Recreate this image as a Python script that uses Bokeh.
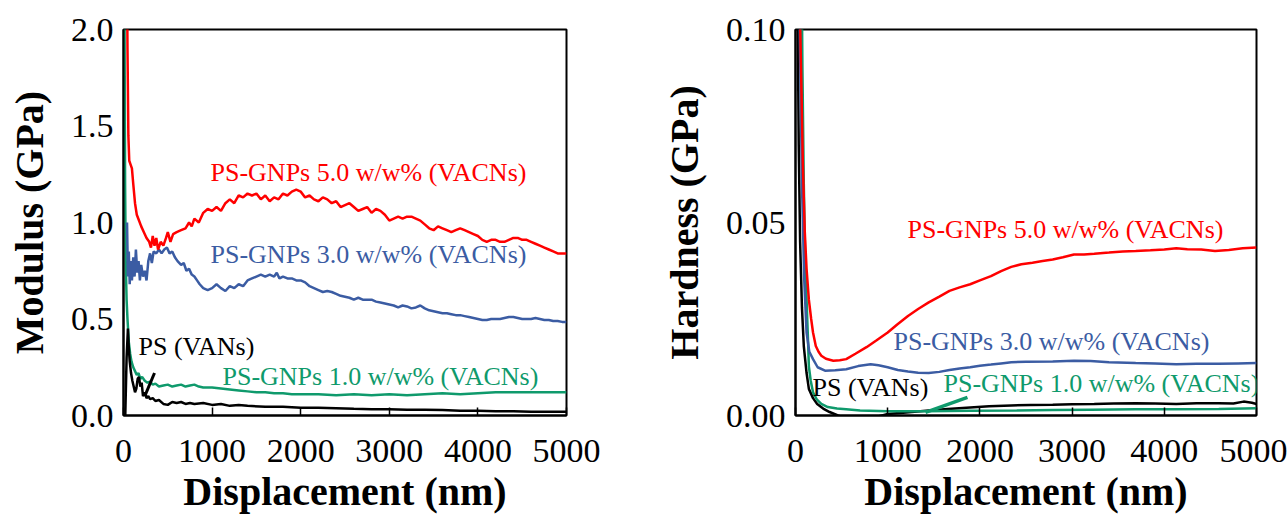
from bokeh.plotting import figure
from bokeh.layouts import row
from bokeh.models import FixedTicker, NumeralTickFormatter, Range1d
from bokeh.embed import file_html
from bokeh.resources import INLINE
from bokeh.core.properties import value

# ---------------- data: modulus (left panel) ----------------
mod_red_x = [35, 45, 55, 65, 80, 95, 110, 130, 150, 175, 200, 230, 260, 290, 310, 330, 350, 370, 390, 420,
             450, 480, 500, 530, 560, 600, 650, 700, 740, 770, 800, 850, 900, 950, 1000, 1050, 1100, 1150,
             1200, 1250, 1300, 1350, 1400, 1450, 1500, 1550, 1600, 1650, 1700, 1750, 1800, 1850, 1900, 1950,
             2000, 2050, 2100, 2150, 2200, 2250, 2300, 2350, 2400, 2450, 2500, 2550, 2600, 2650, 2700, 2750,
             2800, 2850, 2900, 2950, 3000, 3050, 3100, 3150, 3200, 3250, 3300, 3350, 3400, 3450, 3500, 3550,
             3600, 3650, 3700, 3750, 3800, 3850, 3900, 3950, 4000, 4050, 4100, 4150, 4200, 4250, 4300, 4350,
             4400, 4450, 4500, 4550, 4600, 4650, 4700, 4750, 4800, 4850, 4900, 4950, 5000]
mod_red_y = [2.6, 1.9, 1.45, 1.32, 1.30, 1.28, 1.20, 1.10, 1.04, 1.01, 0.98, 0.95, 0.92, 0.90, 0.87, 0.93, 0.88, 0.92, 0.86, 0.90,
             0.88, 0.92, 0.95, 0.90, 0.94, 0.95, 0.96, 0.97, 1.00, 0.98, 1.02, 1.00, 1.05, 1.07, 1.06, 1.08, 1.06, 1.10,
             1.12, 1.10, 1.14, 1.13, 1.15, 1.14, 1.15, 1.12, 1.14, 1.11, 1.13, 1.12, 1.15, 1.14, 1.16, 1.17,
             1.16, 1.13, 1.14, 1.12, 1.11, 1.13, 1.12, 1.10, 1.11, 1.08, 1.09, 1.10, 1.08, 1.06, 1.07, 1.08,
             1.05, 1.07, 1.06, 1.04, 1.01, 1.02, 1.03, 1.02, 1.03, 1.03, 1.02, 1.01, 0.99, 0.97, 0.96, 0.98,
             0.97, 0.96, 0.95, 0.96, 0.97, 0.96, 0.95, 0.94, 0.93, 0.91, 0.90, 0.91, 0.91, 0.90, 0.90, 0.91,
             0.92, 0.92, 0.91, 0.91, 0.90, 0.89, 0.88, 0.87, 0.86, 0.85, 0.84, 0.84, 0.84]

mod_blue_x = [40, 50, 60, 70, 80, 95, 110, 125, 140, 155, 170, 185, 200, 220, 240, 260, 280, 300, 320, 340,
              370, 400, 430, 460, 490, 520, 550, 580, 610, 650, 680, 710, 740, 770, 800, 830, 860, 900, 950,
              1000, 1050, 1100, 1150, 1200, 1250, 1300, 1350, 1400, 1450, 1500, 1550, 1600, 1650, 1700, 1730,
              1760, 1800, 1850, 1900, 1950, 2000, 2050, 2100, 2150, 2200, 2250, 2300, 2350, 2400, 2450, 2500,
              2550, 2600, 2650, 2700, 2750, 2800, 2850, 2900, 2950, 3000, 3050, 3100, 3150, 3200, 3250, 3300,
              3350, 3400, 3450, 3500, 3550, 3600, 3650, 3700, 3750, 3800, 3850, 3900, 3950, 4000, 4050, 4100,
              4150, 4200, 4250, 4300, 4350, 4400, 4450, 4500, 4550, 4600, 4650, 4700, 4750, 4800, 4850, 4900,
              4950, 5000]
mod_blue_y = [1.00, 0.72, 0.85, 0.68, 0.80, 0.70, 0.82, 0.72, 0.86, 0.74, 0.80, 0.70, 0.78, 0.72, 0.75, 0.70, 0.80, 0.84, 0.79, 0.85,
              0.84, 0.86, 0.84, 0.86, 0.87, 0.84, 0.85, 0.82, 0.80, 0.78, 0.79, 0.75, 0.76, 0.73, 0.72, 0.70, 0.68, 0.66, 0.65,
              0.66, 0.68, 0.66, 0.645, 0.67, 0.66, 0.68, 0.67, 0.70, 0.71, 0.72, 0.73, 0.72, 0.73, 0.72, 0.74,
              0.71, 0.72, 0.71, 0.71, 0.70, 0.70, 0.69, 0.67, 0.66, 0.65, 0.64, 0.645, 0.64, 0.63, 0.62, 0.615,
              0.61, 0.60, 0.61, 0.60, 0.60, 0.60, 0.59, 0.585, 0.58, 0.575, 0.57, 0.56, 0.57, 0.565, 0.555, 0.56,
              0.57, 0.555, 0.545, 0.54, 0.535, 0.53, 0.53, 0.525, 0.52, 0.52, 0.515, 0.51, 0.505, 0.50, 0.495, 0.495,
              0.50, 0.50, 0.50, 0.505, 0.51, 0.51, 0.505, 0.50, 0.50, 0.50, 0.505, 0.50, 0.495, 0.495, 0.49, 0.49,
              0.485, 0.485]

mod_green_x = [5, 12, 18, 25, 35, 45, 60, 75, 90, 110, 130, 150, 170, 190, 210, 240, 270, 300, 330, 360, 400,
               450, 500, 550, 600, 650, 700, 750, 800, 850, 900, 1000, 1100, 1200, 1300, 1400, 1500, 1600, 1700,
               1800, 1900, 2000, 2200, 2400, 2600, 2800, 3000, 3200, 3400, 3600, 3800, 4000, 4200, 4400, 4600,
               4800, 5000]
mod_green_y = [2.6, 2.0, 1.2, 0.8, 0.6, 0.50, 0.38, 0.32, 0.28, 0.25, 0.23, 0.21, 0.22, 0.19, 0.20, 0.18, 0.17, 0.175, 0.16, 0.165, 0.15,
               0.155, 0.16, 0.15, 0.155, 0.16, 0.15, 0.155, 0.16, 0.15, 0.145, 0.145, 0.14, 0.135, 0.13, 0.125, 0.12, 0.12, 0.115,
               0.115, 0.11, 0.11, 0.11, 0.105, 0.11, 0.105, 0.11, 0.105, 0.11, 0.115, 0.11, 0.115, 0.12, 0.12, 0.12,
               0.12, 0.12]

mod_black_x = [20, 35, 50, 60, 70, 85, 100, 115, 130, 145, 160, 175, 190, 205, 220, 240, 260, 280, 300, 330,
               360, 400, 450, 500, 550, 600, 650, 700, 750, 800, 900, 1000, 1100, 1200, 1300, 1400, 1600, 1800,
               2000, 2200, 2400, 2600, 2800, 3000, 3200, 3400, 3600, 3800, 4000, 4200, 4400, 4600, 4800, 5000]
mod_black_y = [0.0, 0.30, 0.45, 0.35, 0.28, 0.22, 0.18, 0.15, 0.12, 0.14, 0.19, 0.20, 0.15, 0.17, 0.10, 0.12, 0.09, 0.10, 0.085, 0.09,
               0.075, 0.08, 0.06, 0.055, 0.07, 0.065, 0.07, 0.06, 0.065, 0.06, 0.065, 0.055, 0.06, 0.05, 0.055, 0.05, 0.045, 0.045,
               0.04, 0.04, 0.038, 0.035, 0.033, 0.032, 0.03, 0.03, 0.028, 0.025, 0.025, 0.022, 0.022, 0.02, 0.02, 0.02]

# ---------------- data: hardness (right panel) ----------------
hard_red_x = [35, 60, 80, 100, 120, 145, 170, 190, 220, 250, 280, 330, 410, 480, 550, 650, 770, 880, 1000, 1100,
              1220, 1330, 1445, 1560, 1670, 1780, 1895, 2000, 2120, 2230, 2340, 2450, 2570, 2680, 2790, 2900,
              3020, 3130, 3240, 3400, 3550, 3690, 3850, 4000, 4130, 4250, 4400, 4550, 4700, 4850, 5000]
hard_red_y = [0.12, 0.09, 0.065, 0.048, 0.038, 0.030, 0.025, 0.0215, 0.018, 0.0165, 0.0155, 0.0147, 0.0142, 0.0143, 0.0146, 0.016, 0.0177, 0.0195, 0.0215, 0.0235,
              0.0258, 0.0276, 0.0293, 0.0308, 0.0323, 0.0332, 0.034, 0.035, 0.0361, 0.0374, 0.0385, 0.0392, 0.0396, 0.040, 0.0404, 0.041,
              0.0417, 0.0417, 0.0419, 0.0422, 0.0425, 0.0426, 0.0428, 0.043, 0.0433, 0.0431, 0.043, 0.0426, 0.0429, 0.0433, 0.0435]

hard_blue_x = [40, 70, 95, 120, 150, 190, 240, 320, 430, 550, 680, 815, 900, 1000, 1110, 1220, 1330, 1445, 1560,
               1670, 1780, 1895, 2000, 2120, 2230, 2340, 2500, 2790, 3020, 3200, 3400, 3690, 3900, 4130, 4350,
               4590, 4800, 5000]
hard_blue_y = [0.11, 0.06, 0.035, 0.0215, 0.0165, 0.0146, 0.0125, 0.0116, 0.0117, 0.012, 0.0128, 0.0133, 0.013, 0.0125, 0.0118, 0.0114, 0.0111, 0.011, 0.0113,
               0.0118, 0.0122, 0.0125, 0.0129, 0.0132, 0.0135, 0.0138, 0.0139, 0.014, 0.0142, 0.0141, 0.0138, 0.0136, 0.0135, 0.0133, 0.0134,
               0.0134, 0.0135, 0.0136]

hard_green_x = [65, 75, 90, 105, 120, 135, 145, 165, 190, 230, 280, 350, 450, 550, 700, 1000, 1400, 1895, 2400,
                2790, 3200, 3690, 4100, 4590, 5000]
hard_green_y = [0.12, 0.09, 0.06, 0.04, 0.030, 0.020, 0.0127, 0.009, 0.006, 0.0042, 0.003, 0.0022, 0.0018, 0.0016, 0.0013, 0.0011, 0.0011, 0.0012, 0.0013,
                0.0014, 0.0015, 0.0016, 0.0016, 0.0017, 0.0019]

hard_black_x = [18, 35, 50, 70, 90, 120, 145, 190, 235, 300, 370, 460, 550, 650, 750, 850, 950, 1000, 1200, 1445,
                1650, 1895, 2100, 2340, 2550, 2790, 3000, 3240, 3450, 3690, 3900, 4130, 4350, 4590, 4750, 4860,
                4950, 5000]
hard_black_y = [0.12, 0.07, 0.045, 0.028, 0.018, 0.011, 0.0069, 0.0045, 0.003, 0.0018, 0.0009, 0.0, -0.0008, -0.0012, -0.001, -0.0005, 0.0001, 0.0004, 0.0008, 0.0013,
                0.0017, 0.0021, 0.0024, 0.0026, 0.0027, 0.0028, 0.0029, 0.003, 0.0031, 0.0032, 0.0031, 0.003, 0.0032, 0.0032, 0.0031, 0.0036,
                0.0033, 0.003]

# ---------------- labels ----------------
series_names = ["PS-GNPs 5.0 w/w% (VACNs)", "PS-GNPs 3.0 w/w% (VACNs)", "PS (VANs)", "PS-GNPs 1.0 w/w% (VACNs)"]
series_colors = ["#FF0000", "#3B5CA3", "#000000", "#0F9A6C"]
mod_label_x = [982, 982, 169, 1117]
mod_label_y = [1.26, 0.832, 0.357, 0.20]
hard_label_x = [1215, 1063, 184, 1605]
hard_label_y = [0.0483, 0.0191, 0.0072, 0.0083]

mod_leader_x = [240, 350]
mod_leader_y = [0.10, 0.22]
hard_leader_x = [1410, 1865]
hard_leader_y = [0.0008, 0.0047]

x_ticks = [0, 1000, 2000, 3000, 4000, 5000]
mod_ticks = [0.0, 0.5, 1.0, 1.5, 2.0]
hard_ticks = [0.0, 0.05, 0.10]

SERIF = "Liberation Serif"


def style(p, yticks, yfmt, ylabel, ylab_standoff):
    p.xgrid.visible = False
    p.ygrid.visible = False
    p.outline_line_color = "black"
    p.outline_line_width = 2
    p.outline_line_alpha = 1
    p.xaxis.ticker = FixedTicker(ticks=x_ticks)
    p.yaxis.ticker = FixedTicker(ticks=yticks)
    p.xaxis.formatter = NumeralTickFormatter(format="0")
    p.yaxis.formatter = NumeralTickFormatter(format=yfmt)
    for ax in (p.xaxis[0], p.yaxis[0]):
        ax.axis_line_color = "black"
        ax.axis_line_width = 2
        ax.major_tick_line_color = "black"
        ax.major_tick_line_width = 1.5
        ax.major_tick_out = 0
        ax.minor_tick_line_color = None
        ax.major_label_text_font = SERIF
        ax.major_label_text_font_size = "34px"
        ax.major_label_text_color = "black"
        ax.axis_label_text_font = SERIF
        ax.axis_label_text_font_style = "bold"
        ax.axis_label_text_font_size = "40px"
        ax.axis_label_text_color = "black"
    p.xaxis.major_tick_in = 8
    p.yaxis.major_tick_in = 0
    p.xaxis.major_label_standoff = 24
    p.yaxis.major_label_standoff = 10
    p.xaxis.axis_label = "Displacement (nm)"
    p.xaxis.axis_label_standoff = 4
    p.yaxis.axis_label = ylabel
    p.yaxis.axis_label_standoff = ylab_standoff


# ---------------- left panel ----------------
p1 = figure(width=640, height=516, output_backend="svg", toolbar_location=None,
            x_range=Range1d(0, 5000), y_range=Range1d(0, 2.0),
            min_border_left=123, min_border_right=74, min_border_top=29, min_border_bottom=100)
style(p1, mod_ticks, "0.0", "Modulus (GPa)", 16)
p1.line(mod_green_x, mod_green_y, color=series_colors[3], line_width=2.5)
p1.line(mod_black_x, mod_black_y, color=series_colors[2], line_width=2.5)
p1.line(mod_blue_x, mod_blue_y, color=series_colors[1], line_width=2.5)
p1.line(mod_red_x, mod_red_y, color=series_colors[0], line_width=2.5)
p1.line(mod_leader_x, mod_leader_y, color="black", line_width=3)
p1.text(x=mod_label_x, y=mod_label_y, text=series_names, text_color=series_colors,
        text_font=value(SERIF), text_font_size="26px", text_baseline="middle", text_align="left")

# ---------------- right panel ----------------
p2 = figure(width=647, height=516, output_backend="svg", toolbar_location=None,
            x_range=Range1d(0, 5000), y_range=Range1d(0, 0.10),
            min_border_left=155, min_border_right=31, min_border_top=29, min_border_bottom=100)
style(p2, hard_ticks, "0.00", "Hardness (GPa)", 16)
p2.line(hard_black_x, hard_black_y, color=series_colors[2], line_width=2.5)
p2.line(hard_green_x, hard_green_y, color=series_colors[3], line_width=2.5)
p2.line(hard_blue_x, hard_blue_y, color=series_colors[1], line_width=2.5)
p2.line(hard_red_x, hard_red_y, color=series_colors[0], line_width=2.5)
p2.line(hard_leader_x, hard_leader_y, color=series_colors[3], line_width=3.5)
p2.text(x=hard_label_x, y=hard_label_y, text=series_names, text_color=series_colors,
        text_font=value(SERIF), text_font_size="26px", text_baseline="middle", text_align="left")

layout = row(p1, p2)
open("out.html", "w").write(file_html(layout, INLINE))
